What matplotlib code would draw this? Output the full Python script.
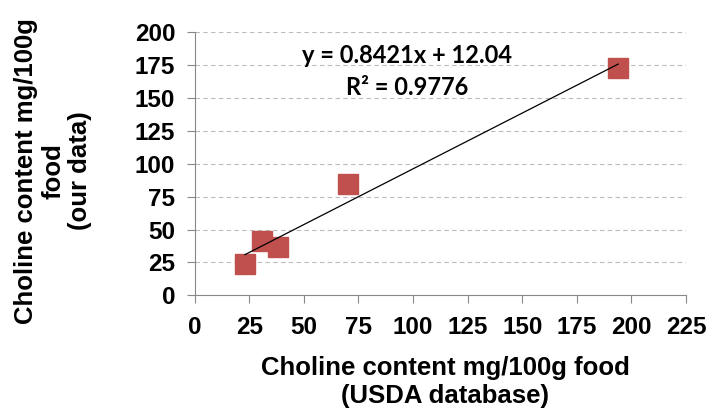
import matplotlib
matplotlib.use("Agg")
import matplotlib.pyplot as plt
import numpy as np

# values
usda = [23, 31, 38, 70, 194]
ours = [24, 41.5, 36.5, 84.5, 172.5]
x_ticks = [0, 25, 50, 75, 100, 125, 150, 175, 200, 225]
y_ticks = [0, 25, 50, 75, 100, 125, 150, 175, 200]
eq_text = "y = 0.8421x + 12.04"
r2_text = "R² = 0.9776"

plt.rcParams['font.family'] = ['Liberation Sans', 'DejaVu Sans']

fig = plt.figure(figsize=(7.16, 4.08), dpi=100)
ax = fig.add_axes([0.272, 0.276, 0.686, 0.645])

# linear trendline through the points
slope, intercept = np.polyfit(usda, ours, 1)
xs = np.array([min(usda), max(usda)])
ax.plot(xs, slope * xs + intercept, color='black', lw=0.9, zorder=3)

ax.plot(usda, ours, ls='none', marker='s', markersize=14,
        color='#C0504D', markeredgecolor='#C0504D', zorder=2)

ax.set_xlim(0, 225)
ax.set_ylim(0, 200)
ax.set_xticks(x_ticks)
ax.set_yticks(y_ticks)
ax.tick_params(labelsize=17.5, length=6, color='#888888')
ax.tick_params(axis='x', pad=9)
ax.tick_params(axis='y', pad=8)
for lab in ax.get_xticklabels() + ax.get_yticklabels():
    lab.set_fontweight('bold')

ax.yaxis.grid(True, ls=(0, (4, 3)), color='#BBBBBB', lw=0.8)
ax.set_axisbelow(True)
for s in ['top', 'right']:
    ax.spines[s].set_visible(False)
for s in ['left', 'bottom']:
    ax.spines[s].set_color('#888888')

ax.text(97.3, 182.6, eq_text, ha='center', va='center', fontsize=17,
        family=['Lato', 'DejaVu Sans'], fontweight='bold')
ax.text(97.3, 158, r2_text, ha='center', va='center', fontsize=17,
        family=['Lato', 'DejaVu Sans'], fontweight='bold')

fig.text(445 / 716, 1 - 382 / 408,
         "Choline content mg/100g food\n(USDA database)",
         ha='center', va='center', fontsize=18.5, fontweight='bold',
         linespacing=1.25)
fig.text(53 / 716, 1 - 171 / 408,
         "Choline content mg/100g\nfood\n(our data)",
         ha='center', va='center', rotation=90, fontsize=18.5,
         fontweight='bold', linespacing=1.15)

fig.savefig("out.png", dpi=100)
